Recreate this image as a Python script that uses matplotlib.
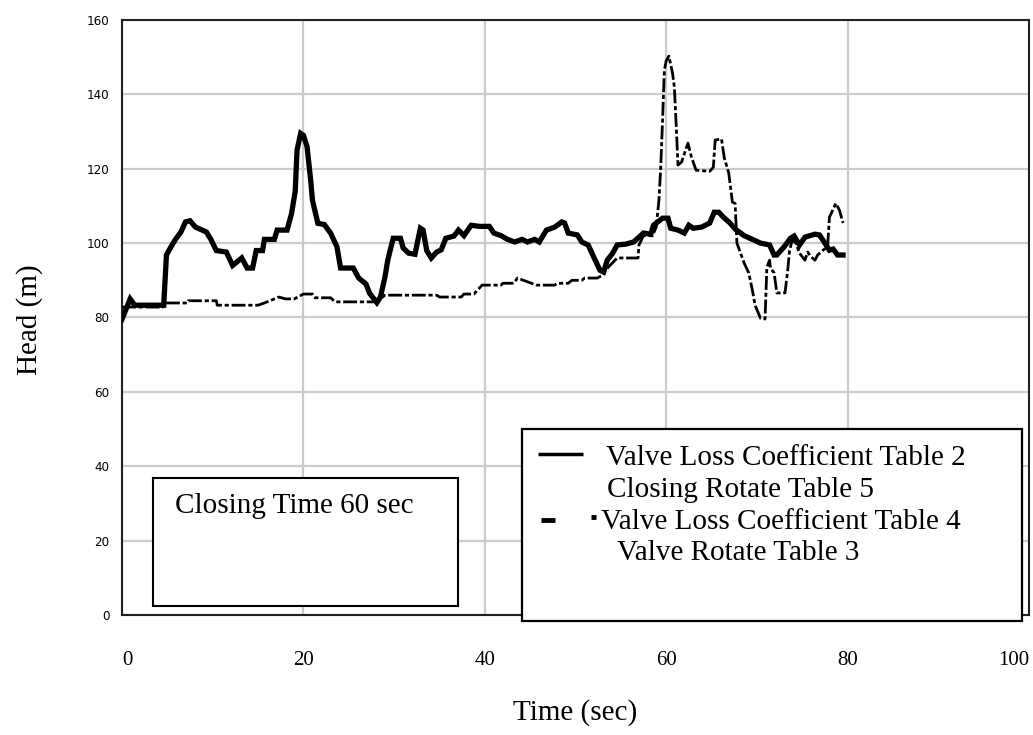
import matplotlib
matplotlib.use("Agg")
import matplotlib.pyplot as plt
from matplotlib.patches import Rectangle
from matplotlib.lines import Line2D

# Valve loss coefficient table 2 / closing rotate table 5 (solid)
t2_time = [0, 0.9, 1.4, 4.6, 4.9, 5.4, 5.9, 6.5, 7.0, 7.5,
           8.1, 9.3, 9.8, 10.4, 11.5, 12.2, 13.2, 13.8, 14.4, 14.8,
           15.5, 15.7, 16.8, 17.1, 18.2, 18.7, 19.1, 19.3, 19.7, 20.0,
           20.4, 20.8, 21.0, 21.6, 22.3, 23.0, 23.7, 24.1, 25.5, 26.1,
           26.9, 27.3, 28.1, 28.5, 29.0, 29.3, 29.9, 30.7, 31.0, 31.6,
           32.3, 32.9, 33.2, 33.6, 34.1, 34.7, 35.2, 35.7, 36.6, 37.1,
           37.7, 38.5, 39.4, 40.5, 41.0, 41.8, 42.5, 43.3, 44.1, 44.7,
           45.5, 46.0, 46.8, 47.7, 48.5, 48.8, 49.2, 50.2, 50.7, 51.4,
           52.0, 52.7, 53.1, 53.5, 54.1, 54.6, 55.5, 56.4, 57.0, 57.5,
           58.3, 58.6, 59.6, 60.2, 60.5, 61.3, 62.0, 62.5, 63.0, 63.9,
           64.8, 65.3, 65.8, 66.3, 67.0, 67.6, 68.6, 69.7, 70.4, 71.4,
           71.9, 72.2, 73.0, 73.7, 74.1, 74.7, 75.3, 76.4, 76.9, 77.5,
           78.0, 78.4, 78.9, 79.5]
t2_head = [79.5, 85, 83.3, 83.3, 96.8, 99, 101, 103, 105.7, 106,
           104.3, 103, 101, 98, 97.6, 94, 96, 93.3, 93.3, 98,
           98, 101, 101, 103.5, 103.5, 108, 114, 125, 129.5, 129,
           126, 117, 111.5, 105.3, 105, 102.7, 99, 93.3, 93.3, 90.6,
           89, 86.5, 84, 85.5, 91, 95.4, 101.3, 101.3, 98.7, 97.3,
           97, 104, 103.5, 98, 96, 97.6, 98.2, 101.3, 101.9, 103.5,
           102, 104.8, 104.5, 104.5, 102.7, 102, 101, 100.3, 101, 100.3,
           101, 100.3, 103.5, 104.3, 105.7, 105.4, 102.7, 102.2, 100.3, 99.5,
           96.3, 92.7, 92.2, 95.4, 97.3, 99.5, 99.7, 100.3, 101.6, 102.7,
           102.4, 104.8, 106.7, 106.7, 104, 103.5, 102.7, 104.8, 104, 104.3,
           105.4, 108.3, 108.3, 107, 105.5, 103.8, 102, 100.8, 100, 99.5,
           96.8, 96.8, 99, 101.3, 101.9, 99.5, 101.6, 102.4, 102.2, 100,
           98.1, 98.4, 96.8, 96.8]

# Valve loss coefficient table 4 / valve rotate table 3 (dash-dot)
t4_time = [0, 4.5, 4.6, 7.2, 7.3, 10.4, 10.5, 15.0, 15.7, 17.3,
           18.0, 19.0, 20.0, 21.0, 21.3, 23.0, 23.5, 28.0, 29.0, 34.7,
           35.0, 37.4, 37.7, 38.8, 39.7, 41.8, 42.0, 43.2, 43.6, 44.7,
           45.7, 47.7, 48.0, 49.2, 49.6, 50.7, 51.0, 52.4, 53.0, 53.6,
           54.6, 56.9, 57.0, 57.5, 58.5, 58.9, 59.2, 59.4, 59.6, 59.8,
           60.0, 60.3, 60.7, 60.9, 61.1, 61.3, 61.7, 62.4, 62.8, 63.3,
           64.8, 65.2, 65.4, 66.1, 66.4, 66.9, 67.3, 67.6, 67.8, 68.6,
           69.1, 69.5, 69.8, 70.4, 70.9, 71.1, 71.4, 71.5, 71.9, 72.2,
           73.1, 73.4, 73.6, 73.9, 74.3, 74.7, 75.3, 75.6, 75.9, 76.4,
           76.7, 77.3, 77.8, 78.0, 78.2, 78.7, 79.1, 79.5]
t4_head = [82.8, 82.8, 83.9, 83.9, 84.5, 84.5, 83.3, 83.3, 83.9, 85.5,
           85, 85, 86.3, 86.3, 85.3, 85.3, 84.2, 84.2, 86, 86,
           85.5, 85.5, 86.3, 86.3, 88.7, 88.7, 89.2, 89.2, 90.6, 89.6,
           88.7, 88.7, 89.2, 89.2, 90, 90, 90.6, 90.6, 91.4, 93.5,
           96, 96, 99.5, 102, 102, 104.3, 111.5, 120.4, 133, 146.5,
           149, 150.3, 145.7, 142, 132, 121, 121.8, 126.9, 123, 119.6,
           119.3, 120.4, 127.7, 128, 123, 118.8, 111, 110.7, 100, 94.6,
           92, 87.4, 83.3, 79.8, 79.6, 93.5, 95.4, 93.3, 92, 86.6,
           86.6, 92.7, 98, 100.8, 100, 97.3, 95.4, 97.6, 96.5, 95.4,
           96.8, 98.1, 99, 107, 108, 110.7, 108.9, 105.4]

x_ticks = [0, 20, 40, 60, 80, 100]
y_ticks = [0, 20, 40, 60, 80, 100, 120, 140, 160]

legend_lines = ["Valve Loss Coefficient Table 2", "Closing Rotate Table 5",
                "Valve Loss Coefficient Table 4", "Valve Rotate Table 3"]
note_text = "Closing Time 60 sec"

serif = "Liberation Serif"

fig = plt.figure(figsize=(10.33, 7.35), dpi=100)
ax = fig.add_axes([0.1181, 0.1633, 0.8780, 0.8095])

ax.plot(t4_time, t4_head, color="black", lw=2.0,
        linestyle=(0, (5, 1, 1.5, 1)), zorder=3)
ax.plot(t2_time, t2_head, color="black", lw=3.8, solid_joinstyle="miter", zorder=4)

ax.set_xlim(0, 100)
ax.set_ylim(0, 160)
ax.set_xticks(x_ticks)
ax.set_yticks(y_ticks)
ax.grid(True, color="#cccccc", lw=1.6, zorder=0)
ax.set_axisbelow(True)
for s in ax.spines.values():
    s.set_color("#222222")
    s.set_linewidth(1.5)

ax.tick_params(axis="both", length=0)
ax.tick_params(axis="y", pad=9)
ax.tick_params(axis="x", pad=26)
for lab in ax.get_yticklabels():
    lab.set_fontfamily("DejaVu Sans")
    lab.set_fontstretch("condensed")
    lab.set_fontsize(9.5)
for lab in ax.get_xticklabels():
    lab.set_fontfamily(serif)
    lab.set_fontsize(15)
ax.get_xticklabels()[0].set_ha("left")
ax.get_xticklabels()[-1].set_ha("right")

fig.text(0.029, 0.565, "Head (m)", rotation=90, ha="center", va="center",
         fontfamily=serif, fontsize=21)
fig.text(0.557, 0.031, "Time (sec)", ha="center", va="center",
         fontfamily=serif, fontsize=21)

# note box
ax.add_patch(Rectangle((0.034, 0.015), 0.337, 0.215, transform=ax.transAxes,
                       facecolor="white", edgecolor="black", lw=1.5, zorder=5))
ax.text(0.058, 0.183, note_text, transform=ax.transAxes, ha="left", va="center",
        fontfamily=serif, fontsize=21, zorder=6)

# legend box, drawn by hand like the original
ax.add_patch(Rectangle((0.441, -0.010), 0.551, 0.323, transform=ax.transAxes,
                       facecolor="white", edgecolor="black", lw=1.6,
                       clip_on=False, zorder=5))
ax.add_line(Line2D([0.459, 0.508], [0.270, 0.270], transform=ax.transAxes,
                   color="black", lw=2.5, solid_capstyle="butt", zorder=6))
ax.add_line(Line2D([0.4616, 0.4779], [0.160, 0.160], transform=ax.transAxes,
                   color="black", lw=3.5, solid_capstyle="butt", zorder=6))
ax.add_line(Line2D([0.5175, 0.5230], [0.164, 0.164], transform=ax.transAxes,
                   color="black", lw=3.5, solid_capstyle="butt", zorder=6))
legend_pos = [(0.534, 0.264), (0.535, 0.210), (0.528, 0.156), (0.546, 0.104)]
for txt, (lx, ly) in zip(legend_lines, legend_pos):
    ax.text(lx, ly, txt, transform=ax.transAxes, ha="left", va="center",
            fontfamily=serif, fontsize=21, zorder=6)

fig.savefig("out.png", dpi=100)
